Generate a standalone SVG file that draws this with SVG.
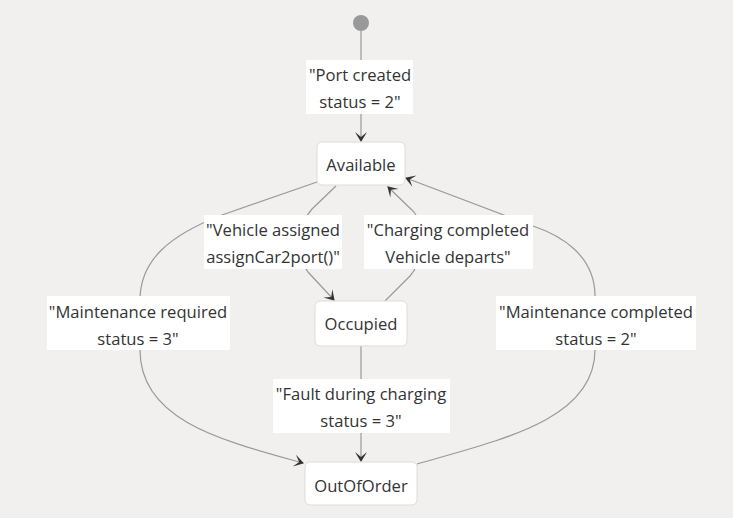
<svg xmlns="http://www.w3.org/2000/svg" width="733" height="518" viewBox="0 0 733 518">
<defs>
<marker id="arr" viewBox="0 0 20 14" refX="18" refY="7" markerWidth="20" markerHeight="14" markerUnits="userSpaceOnUse" orient="auto">
<path d="M19,7 L9,13 L14,7 L9,1 Z" fill="#333"/>
</marker>
<style>
.node rect{fill:#fff;stroke:#dcdcdc;stroke-width:1}
.t{font-family:"Open Sans","Noto Sans",sans-serif;font-size:16.6px;fill:#333;text-anchor:middle;dominant-baseline:central}
.e{fill:none;stroke:#999;stroke-width:1.2}
.lbl{fill:#fff}
</style>
</defs>
<rect width="733" height="518" fill="#f1f0ef"/>
<g id="edges">
<path class="e" d="M361,31 L361,141" marker-end="url(#arr)"/>
<path class="e" d="M336,186 L312,209 Q300,222 300,242 Q300,262 308,272 L334,300" marker-end="url(#arr)"/>
<path class="e" d="M385,301 L410,276 Q422,262 422,242 Q422,222 414,212 L388,187" marker-end="url(#arr)"/>
<path class="e" d="M317,182 L222,215 C170,235 140,260 140,300 L140,350 C140,420 220,440 303,463" marker-end="url(#arr)"/>
<path class="e" d="M417,464 C500,440 595,420 595,350 L595,296 C595,255 560,235 533,226 L406,178" marker-end="url(#arr)"/>
<path class="e" d="M361,346 L361,461" marker-end="url(#arr)"/>
</g>
<g id="labels">
<g id="lbl-port"><rect class="lbl" x="306" y="60" width="107" height="54"/><text class="t" x="360" y="74">"Port created</text><text class="t" x="360" y="101">status = 2"</text></g>
<g id="lbl-assign"><rect class="lbl" x="204" y="215" width="138" height="54"/><text class="t" x="273" y="229">"Vehicle assigned</text><text class="t" x="273" y="256">assignCar2port()"</text></g>
<g id="lbl-charge"><rect class="lbl" x="364" y="215" width="169" height="54"/><text class="t" x="448" y="229">"Charging completed</text><text class="t" x="448" y="256">Vehicle departs"</text></g>
<g id="lbl-mreq"><rect class="lbl" x="47" y="296" width="183" height="54"/><text class="t" x="138" y="311">"Maintenance required</text><text class="t" x="138" y="338">status = 3"</text></g>
<g id="lbl-mcomp"><rect class="lbl" x="496" y="296" width="200" height="54"/><text class="t" x="596" y="311">"Maintenance completed</text><text class="t" x="596" y="338">status = 2"</text></g>
<g id="lbl-fault"><rect class="lbl" x="273" y="379" width="177" height="54"/><text class="t" x="361" y="393">"Fault during charging</text><text class="t" x="361" y="420">status = 3"</text></g>
</g>
<g id="start"><circle cx="361" cy="23" r="8" fill="#999"/></g>
<g id="Available" class="node"><rect x="317" y="142" width="88" height="43" rx="5"/><text class="t" x="361" y="164">Available</text></g>
<g id="Occupied" class="node"><rect x="315" y="301" width="92" height="45" rx="5"/><text class="t" x="361" y="323">Occupied</text></g>
<g id="OutOfOrder" class="node"><rect x="305" y="462" width="112" height="43" rx="5"/><text class="t" x="361" y="485">OutOfOrder</text></g>
</svg>
